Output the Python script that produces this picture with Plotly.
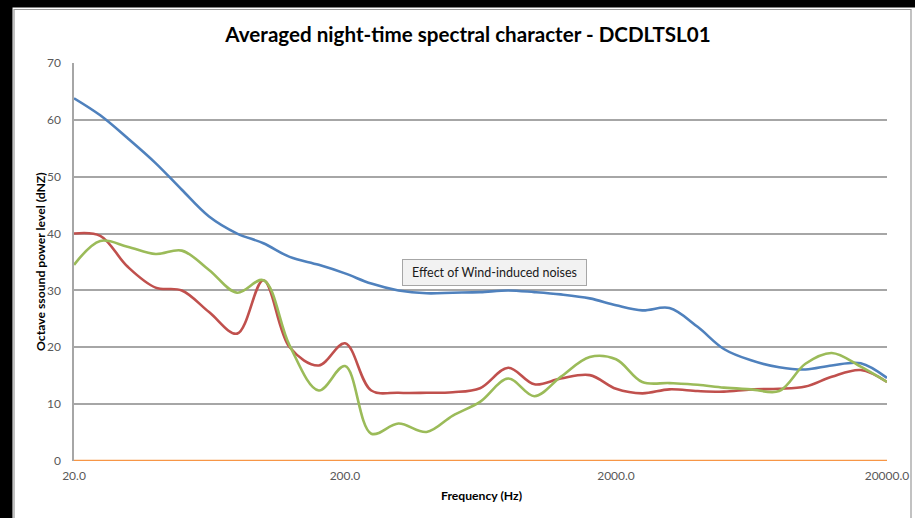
import plotly.graph_objects as go

# Third-octave band centre frequencies (Hz)
freqs = [20, 25, 31.5, 40, 50, 63, 80, 100, 125, 160, 200, 250, 315, 400, 500,
         630, 800, 1000, 1250, 1600, 2000, 2500, 3150, 4000, 5000, 6300, 8000,
         10000, 12500, 16000, 20000]

# Averaged night-time levels per band (dNZ)
series_blue = [63.8, 60.8, 56.8, 52.4, 47.7, 43.0, 40.0, 38.3, 35.9, 34.5, 33.0,
               31.2, 30.0, 29.5, 29.6, 29.7, 30.0, 29.7, 29.3, 28.6, 27.4, 26.5,
               26.9, 23.6, 19.7, 17.7, 16.5, 16.1, 16.8, 17.2, 14.6]
series_red = [40.0, 39.6, 34.2, 30.5, 30.0, 26.2, 22.4, 31.8, 20.0, 16.8, 20.7,
              12.4, 12.0, 12.0, 12.1, 12.8, 16.4, 13.5, 14.5, 15.1, 12.7, 11.9,
              12.6, 12.3, 12.2, 12.6, 12.7, 13.1, 14.8, 16.0, 13.9]
series_green = [34.5, 38.7, 37.7, 36.4, 37.0, 33.6, 29.6, 31.8, 20.3, 12.4, 16.7,
                4.8, 6.6, 5.1, 8.0, 10.4, 14.5, 11.4, 14.8, 18.3, 17.9, 13.9,
                13.7, 13.4, 12.9, 12.6, 12.3, 17.1, 19.0, 16.6, 13.9]
series_base = [0.0] * len(freqs)

x_tick_vals = [20, 200, 2000, 20000]
x_tick_text = ["20.0", "200.0", "2000.0", "20000.0"]
y_tick_vals = [0, 10, 20, 30, 40, 50, 60, 70]

W, H = 915, 518
L, R, T, B = 74, 28, 63, 57
PW, PH = W - L - R, H - T - B


def px_x(p):
    return (p - L) / PW


def px_y(p):
    return (H - B - p) / PH


FONT = "Lato, 'Open Sans', sans-serif"

fig = go.Figure()
for vals, color in [(series_blue, "#4F81BD"), (series_red, "#C0504D"),
                    (series_green, "#9BBB59"), (series_base, "#F79646")]:
    fig.add_trace(go.Scatter(
        x=freqs, y=vals, mode="lines",
        line=dict(color=color, width=2.6, shape="spline", smoothing=1.0),
        cliponaxis=False, showlegend=False, hoverinfo="skip"))

shapes = [
    # white strip beyond the right frame edge
    dict(type="rect", xref="paper", yref="paper",
         x0=px_x(911.8), x1=px_x(W + 2), y0=px_y(H + 2), y1=px_y(8),
         line=dict(width=0), fillcolor="white", layer="above"),
    # outer chart frame (left, top and right edges)
    dict(type="path", xref="paper", yref="paper",
         path=(f"M {px_x(14)},{px_y(H)} L {px_x(14)},{px_y(9.5)} "
               f"L {px_x(911)},{px_y(9.5)} L {px_x(911)},{px_y(H)}"),
         line=dict(color="#9a9a9a", width=1.2), layer="above"),
    # dark page edges
    dict(type="rect", xref="paper", yref="paper",
         x0=px_x(0), x1=px_x(W), y0=px_y(7.5), y1=px_y(0),
         line=dict(width=0), fillcolor="black"),
    dict(type="rect", xref="paper", yref="paper",
         x0=px_x(0), x1=px_x(12.5), y0=px_y(H), y1=px_y(0),
         line=dict(width=0), fillcolor="black"),
]

annotations = [
    dict(text="Effect of Wind-induced noises", xref="paper", yref="paper",
         x=px_x(494), y=px_y(272.5), xanchor="center", yanchor="middle",
         showarrow=False, font=dict(family=FONT, size=12.5, color="#1a1a1a"),
         bgcolor="#f2f2f2", bordercolor="#a6a6a6", borderwidth=1,
         width=181, height=23, align="center"),
    dict(text="<b>Octave ssound power level (dNZ)</b>", xref="paper",
         yref="paper", x=px_x(40), y=0.5, textangle=-90, showarrow=False,
         xanchor="center", yanchor="middle",
         font=dict(family=FONT, size=12.2, color="#000000")),
    dict(text="<b>Frequency (Hz)</b>", xref="paper", yref="paper",
         x=px_x(481), y=px_y(495), showarrow=False, xanchor="center",
         yanchor="middle", font=dict(family=FONT, size=12.2, color="#000000")),
]

fig.update_layout(
    width=W, height=H, hovermode=False,
    margin=dict(l=L, r=R, t=T, b=B, autoexpand=False),
    paper_bgcolor="white", plot_bgcolor="white",
    title=dict(text="<b>Averaged night-time spectral character - DCDLTSL01</b>",
               x=468 / W, xanchor="center", y=1 - 35 / H, yanchor="middle",
               yref="container", automargin=False,
               font=dict(family=FONT, size=20.6, color="#000000")),
    shapes=shapes, annotations=annotations,
    xaxis=dict(type="log", range=[1.30103, 4.30103], tickvals=x_tick_vals,
               ticktext=x_tick_text, showgrid=False, zeroline=False,
               showline=False, ticks="", ticklabelstandoff=6, automargin=False,
               tickfont=dict(family=FONT, size=12, color="#595959")),
    yaxis=dict(range=[0, 70], tickvals=y_tick_vals, showgrid=True,
               gridcolor="#a6a6a6", gridwidth=1.5, zeroline=False,
               showline=True, linecolor="#a6a6a6", linewidth=1.5, ticks="",
               ticklabelstandoff=9, automargin=False,
               tickfont=dict(family=FONT, size=12, color="#595959")),
)

fig.write_html("out.html", config={"displayModeBar": False})
